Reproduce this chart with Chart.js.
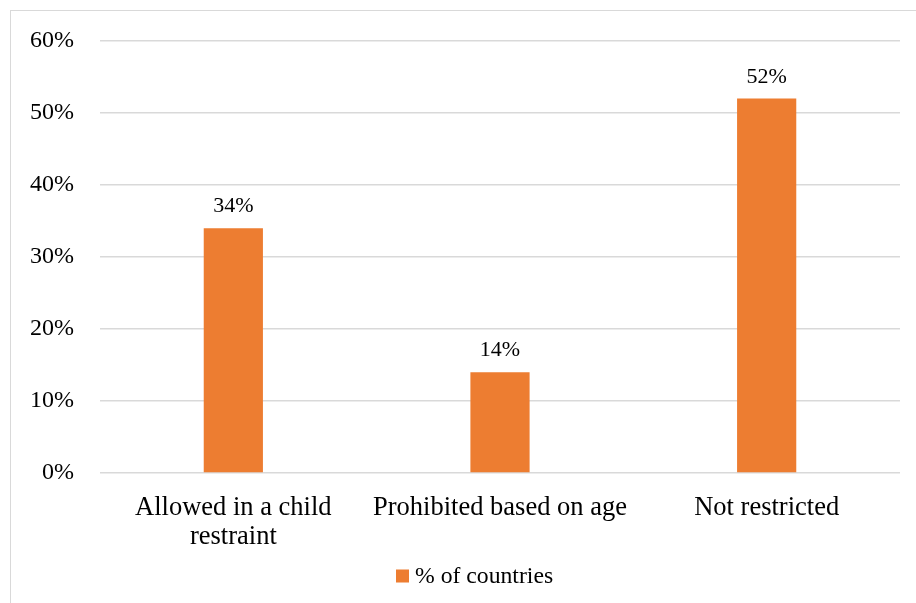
<!DOCTYPE html>
<html>
<head>
<meta charset="utf-8">
<script src="https://cdn.jsdelivr.net/npm/chart.js@4/dist/chart.umd.min.js"></script>
<style>
  html, body { margin: 0; padding: 0; background: #ffffff; }
  #wrap { position: relative; width: 916px; height: 603px; overflow: hidden; }
  #frame { position: absolute; left: 10px; top: 10px; width: 940px; height: 640px;
           border: 1.5px solid #d9d9d9; box-sizing: border-box; pointer-events: none; }
  canvas { position: absolute; left: 0; top: 0; }
</style>
</head>
<body>
<div id="wrap">
  <canvas id="chart" width="916" height="603"></canvas>
  <div id="frame"></div>
</div>
<script>
// Share of countries by rule on children in the front seat
const categories = [
  ['Allowed in a child', 'restraint'],
  'Prohibited based on age',
  'Not restricted'
];
const shareOfCountries = [34, 14, 52];
const seriesName = '% of countries';
const yTicks = [0, 10, 20, 30, 40, 50, 60];

const SERIF = "'Times New Roman', 'Liberation Serif', 'DejaVu Serif', serif";
const BAR_COLOR = '#ED7D31';
const GRID_COLOR = '#d9d9d9';

// Writes the value above each bar
const valueLabels = {
  id: 'valueLabels',
  afterDatasetsDraw(chart) {
    const ctx = chart.ctx;
    ctx.save();
    ctx.font = '22px ' + SERIF;
    ctx.fillStyle = '#000000';
    ctx.textAlign = 'center';
    ctx.textBaseline = 'alphabetic';
    chart.getDatasetMeta(0).data.forEach((bar, i) => {
      ctx.fillText(shareOfCountries[i] + '%', bar.x, bar.y - 16);
    });
    ctx.restore();
  }
};

// Single-entry legend under the category labels
const seriesKey = {
  id: 'seriesKey',
  afterDraw(chart) {
    const ctx = chart.ctx;
    const ds = chart.data.datasets[0];
    const cy = 576;
    const boxX = 396;
    ctx.save();
    ctx.fillStyle = ds.backgroundColor;
    ctx.fillRect(boxX, cy - 6.5, 13, 13);
    ctx.font = '23.7px ' + SERIF;
    ctx.fillStyle = '#000000';
    ctx.textAlign = 'left';
    ctx.textBaseline = 'middle';
    ctx.fillText(ds.label, boxX + 19, cy + 1);
    ctx.restore();
  }
};

new Chart(document.getElementById('chart'), {
  type: 'bar',
  data: {
    labels: categories,
    datasets: [{
      label: seriesName,
      data: shareOfCountries,
      backgroundColor: BAR_COLOR,
      borderWidth: 0,
      barPercentage: 0.222,
      categoryPercentage: 1
    }]
  },
  options: {
    responsive: false,
    animation: false,
    layout: { padding: { top: 41, right: 16, left: 0, bottom: 50 } },
    plugins: {
      tooltip: { enabled: false },
      legend: { display: false }
    },
    scales: {
      x: {
        afterFit(scale) { scale.height = 80; },
        grid: { display: false, drawTicks: false },
        border: { display: false },
        ticks: {
          color: '#000000',
          padding: 20,
          maxRotation: 0,
          autoSkip: false,
          font: { family: SERIF, size: 26.5, lineHeight: 1.11 }
        }
      },
      y: {
        min: 0,
        max: 60,
        afterFit(scale) { scale.width = 100; },
        afterBuildTicks(scale) { scale.ticks = yTicks.map(v => ({ value: v })); },
        grid: { color: GRID_COLOR, lineWidth: 1.5, drawTicks: false },
        border: { display: false },
        ticks: {
          color: '#000000',
          padding: 26,
          font: { family: SERIF, size: 24 },
          callback: v => v + '%'
        }
      }
    }
  },
  plugins: [valueLabels, seriesKey]
});
</script>
</body>
</html>
